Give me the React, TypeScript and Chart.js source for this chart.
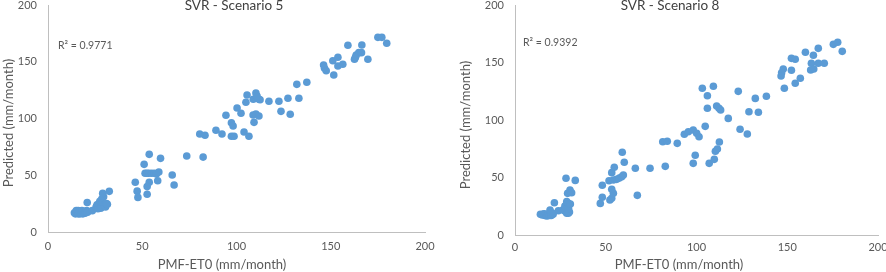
import React, { useEffect, useRef } from "react";
import { Chart, registerables } from "chart.js";
Chart.register(...registerables);

// ---- Data ----
const xTicks = [0, 50, 100, 150, 200];
const yTicks = [0, 50, 100, 150, 200];
const xAxisTitle = "PMF-ET0 (mm/month)";
const yAxisTitle = "Predicted (mm/month)";

const s5Title = "SVR - Scenario 5";
const s5R2 = "R² = 0.9771";
const s5X = [
  14, 14.5, 15, 15, 15.5, 16, 16, 16.5, 17, 17.5, 18, 18.5, 19, 19.5, 20, 20.5, 21,
  20.8, 23.5,
  25.5, 26, 26.5, 27, 27.5, 28, 28, 28.5, 29, 29.5, 30, 30.5, 31, 31.5, 29, 32.5,
  46.3, 47.3, 47.7, 53.7, 51, 59.7, 73.6, 51.5, 52.5, 53.5, 55, 56.5, 57.5, 58.8, 58.2, 53.7, 52.6, 52.6, 65.9, 66.9, 82.3,
  80.5, 83.3, 89.1, 92.3, 94.4, 97.3, 98.2, 97.3, 98.7, 100.3, 102.4, 104, 106.6, 105.6, 105, 110.3, 108.9, 111.9, 112.5, 110.9,
  108.8, 110.3, 111.9, 109.3, 117.2, 122.5, 123.6, 127.3, 128.5, 133.1, 132, 137.3,
  146.2, 146.7, 147.6, 151.6, 151.1, 153.8, 153.8, 156.4, 159.1, 162.6, 163.5, 164.9, 163.1, 166.5, 166.3, 169.7, 175, 177.1, 179.7,
];
const s5Y = [
  17, 16, 18, 19, 17, 16, 19, 18, 16, 17, 19, 16, 18, 16.5, 17, 19, 17.5,
  26, 18.8,
  22, 24, 20.5, 25, 27, 23, 21, 29, 26, 31, 24, 22, 25, 24.5, 34, 35.8,
  43.8, 36, 30.5, 68.4, 59.6, 64.9, 67, 51.7, 51.7, 51.7, 51.7, 51.7, 51, 52.9, 45.2, 43.8, 40, 33.2, 50.2, 41.4, 66,
  86.3, 85.2, 89.6, 86.3, 102.8, 96.3, 93.4, 84.3, 84.3, 109.3, 104.6, 88.1, 84.3, 120.7, 114.3, 122.5, 116.9, 116.9, 116.5, 119.8,
  103.1, 104, 102.2, 96.6, 115.2, 115.2, 106.3, 117.8, 103.7, 117.8, 130.1, 131.9,
  147.1, 144.2, 142.1, 138.3, 150.9, 153.9, 146.3, 147.8, 164.5, 152.2, 156, 158, 153.9, 164.8, 158, 152.2, 171.5, 171.5, 166.3,
];

const s8Title = "SVR - Scenario 8";
const s8R2 = "R² = 0.9392";
const s8X = [
  14, 15, 15.5, 16, 16.5, 17, 17.5, 18, 18.5, 19, 19.5, 20, 20.5, 21,
  19.3, 21.7, 23.9, 26.5, 27.2, 28.5, 29.4, 30, 27.5, 28.5, 29.4, 29.5, 30.5, 29, 30.3, 31.2, 28.1, 33.2,
  47, 48.1, 48.1, 52.3, 53.3, 54.2, 53.3, 51.8, 54.2, 56, 57.5, 58.8, 59.7, 53.3, 54.7, 59.1, 60.2, 66.3, 67.4, 74.4,
  81.4, 83.9, 82.8, 89.4, 93.3, 95.5, 98.2, 100.1, 101.4, 104.8, 98.2, 99.3, 107, 109.8, 110.4, 111.5, 112.6,
  103.2, 109.3, 106, 106, 111.1, 112.4, 113.3, 117.5, 123, 124, 128, 128.9, 132.4, 134.1, 138.5,
  147.8, 146.9, 146.6, 152.3, 154.4, 152.3, 148.4, 154.4, 157.2, 160, 164.4, 167.1, 163.3, 167.1, 170.4, 162.9, 164.6, 175.4, 177.8, 180.3,
];
const s8Y = [
  18, 17.5, 18, 18.5, 17, 18, 16.5, 17, 18.5, 17, 18, 17, 19, 18,
  21.7, 28, 21.1, 22, 21, 19, 19, 20, 25.2, 29, 27.5, 23, 27, 36.2, 39.1, 36.8, 49.3, 47.5,
  27.5, 32.8, 43.2, 30.4, 31.9, 36.2, 39.7, 47.2, 47.8, 48.4, 49.5, 50.7, 52.2, 54.2, 58.9, 71.9, 63.2, 58, 34.5, 58,
  81.1, 81.5, 59.7, 79.7, 87.6, 89.8, 91.3, 88.4, 85.5, 94.5, 62.3, 69.3, 62.3, 65.8, 72.8, 74.8, 80.9,
  127.6, 129.3, 121.1, 110.2, 112.2, 110.2, 108.7, 101.4, 124.9, 91.9, 87.8, 107.2, 118.8, 106.7, 120.6,
  144.3, 141.1, 138.3, 153.6, 152.8, 143.2, 127.6, 131.9, 136.3, 158.9, 156.3, 162.3, 149.3, 149.3, 149.3, 143.5, 144.3, 165.8, 167.6, 159.7,
];

const FONT = "Lato, 'Liberation Sans', sans-serif";
const TEXT = "#595959";
const AXIS = "#BFBFBF";
const POINT = "#5B9BD5";

type Layout = {
  yWidth: number; xHeight: number; padRight: number;
  xLabelPad: number;
  titleX: number; titleY: number;
  r2X: number; r2Y: number;
  xTitleX: number; xTitleY: number;
  yTitleX: number; yTitleY: number;
};

const textPlugin = {
  id: "texts",
  afterDraw(chart: any, _args: any, opts: any) {
    const ctx = chart.ctx;
    ctx.save();
    ctx.textAlign = "center";
    ctx.textBaseline = "alphabetic";
    ctx.fillStyle = "#404040";
    ctx.font = `13.5px ${FONT}`;
    ctx.fillText(opts.title, opts.titleX, opts.titleY);
    ctx.fillStyle = TEXT;
    ctx.textAlign = "left";
    ctx.font = `10.5px ${FONT}`;
    ctx.fillText(opts.r2, opts.r2X, opts.r2Y);
    ctx.textAlign = "center";
    ctx.textBaseline = "middle";
    ctx.font = `13px ${FONT}`;
    ctx.fillText(opts.xTitle, opts.xTitleX, opts.xTitleY);
    ctx.translate(opts.yTitleX, opts.yTitleY);
    ctx.rotate(-Math.PI / 2);
    ctx.fillText(opts.yTitle, 0, 0);
    ctx.restore();
  },
};

function Scatter(props: { xs: number[]; ys: number[]; title: string; r2: string; lay: Layout }) {
  const ref = useRef<HTMLCanvasElement>(null);
  useEffect(() => {
    const { xs, ys, title, r2, lay } = props;
    const chart = new Chart(ref.current!, {
      type: "scatter",
      data: {
        datasets: [
          {
            data: xs.map((x, i) => ({ x, y: ys[i] })),
            backgroundColor: POINT,
            borderColor: POINT,
            borderWidth: 0,
            pointRadius: 3.8,
          },
        ],
      },
      options: {
        responsive: false,
        animation: false,
        events: [],
        layout: { padding: { left: 0, right: lay.padRight, top: 5, bottom: 0 } },
        plugins: {
          legend: { display: false },
          tooltip: { enabled: false },
          texts: {
            title, r2, xTitle: xAxisTitle, yTitle: yAxisTitle,
            titleX: lay.titleX, titleY: lay.titleY, r2X: lay.r2X, r2Y: lay.r2Y,
            xTitleX: lay.xTitleX, xTitleY: lay.xTitleY, yTitleX: lay.yTitleX, yTitleY: lay.yTitleY,
          },
        } as any,
        scales: {
          x: {
            type: "linear",
            min: xTicks[0],
            max: xTicks[xTicks.length - 1],
            afterBuildTicks: (s: any) => { s.ticks = xTicks.map((v) => ({ value: v })); },
            afterFit: (s: any) => { s.height = lay.xHeight; s.paddingLeft = 0; s.paddingRight = 0; },
            grid: { display: false, drawTicks: false },
            border: { display: true, color: AXIS, width: 1 },
            ticks: { color: TEXT, font: { family: FONT, size: 11 }, padding: lay.xLabelPad, maxRotation: 0 },
          },
          y: {
            type: "linear",
            min: yTicks[0],
            max: yTicks[yTicks.length - 1],
            afterBuildTicks: (s: any) => { s.ticks = yTicks.map((v) => ({ value: v })); },
            afterFit: (s: any) => { s.width = lay.yWidth; s.paddingTop = 0; s.paddingBottom = 0; },
            grid: { display: false, drawTicks: false },
            border: { display: true, color: AXIS, width: 1 },
            ticks: { color: TEXT, font: { family: FONT, size: 11 }, padding: 11 },
          },
        },
      },
      plugins: [textPlugin],
    });
    return () => chart.destroy();
  }, []);
  return <canvas ref={ref} width={443} height={272} style={{ display: "block", width: 443, height: 272 }} />;
}

const leftLayout: Layout = {
  yWidth: 48, xHeight: 40, padRight: 18, xLabelPad: 8,
  titleX: 234, titleY: 9.5, r2X: 58, r2Y: 49,
  xTitleX: 222, xTitleY: 265, yTitleX: 8.5, yTitleY: 123,
};
const rightLayout: Layout = {
  yWidth: 72, xHeight: 37, padRight: 8, xLabelPad: 6,
  titleX: 227, titleY: 9.5, r2X: 80, r2Y: 46,
  xTitleX: 236, xTitleY: 265, yTitleX: 22.5, yTitleY: 125,
};

export default function App() {
  return (
    <div style={{ position: "absolute", left: 0, top: 0, width: 886, height: 272, display: "flex", background: "#fff" }}>
      <Scatter xs={s5X} ys={s5Y} title={s5Title} r2={s5R2} lay={leftLayout} />
      <Scatter xs={s8X} ys={s8Y} title={s8Title} r2={s8R2} lay={rightLayout} />
    </div>
  );
}
